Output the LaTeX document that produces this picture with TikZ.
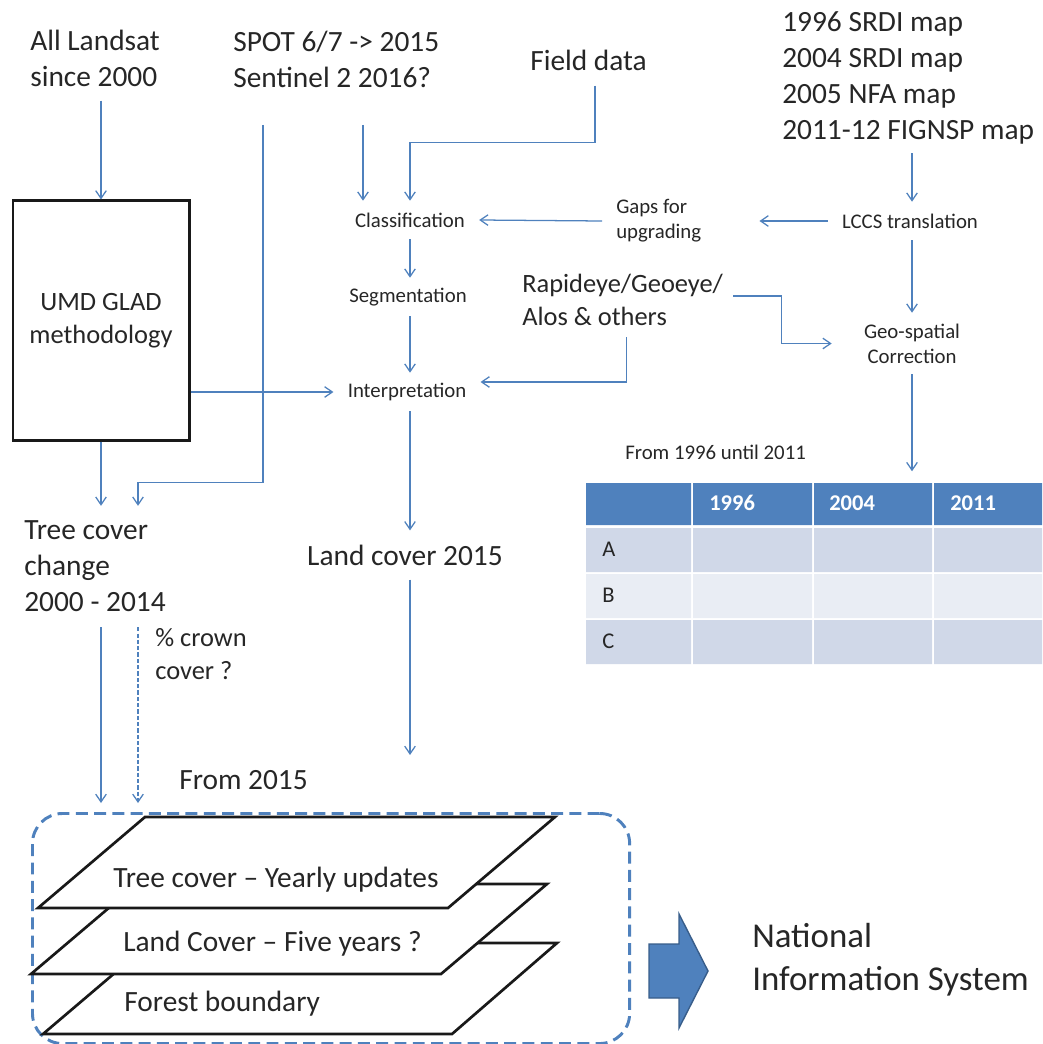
\documentclass[tikz,border=0pt]{standalone}
\usepackage{fontspec}
\setmainfont{Carlito}
\usetikzlibrary{arrows.meta,calc}

\definecolor{lineblue}{HTML}{4F81BD}
\definecolor{headblue}{HTML}{4F81BD}
\definecolor{rowdark}{HTML}{D0D8E8}
\definecolor{rowlight}{HTML}{E9EDF4}
\definecolor{arrowedge}{HTML}{385D8A}
\definecolor{textgray}{HTML}{262626}

\newcommand{\szbig}{\fontsize{20.9}{25.5}\selectfont}
\newcommand{\szmid}{\fontsize{18.8}{23.5}\selectfont}
\newcommand{\szsmall}{\fontsize{14.8}{17.8}\selectfont}
\newcommand{\szhuge}{\fontsize{24.8}{30.6}\selectfont}
\newcommand{\sztab}{\fontsize{16}{19}\selectfont}

\begin{document}
\begin{tikzpicture}[x=0.025cm, y=-0.025cm,
    txt/.style={inner sep=0pt, text=textgray, align=left, anchor=west},
    proc/.style={inner sep=0pt, inner xsep=0.35cm, minimum height=0.95cm, text=textgray, font=\szsmall, align=left},
    link/.style={lineblue, line width=0.9pt, -{Straight Barb[length=5.5pt,width=7.5pt]}},
    layer/.style={draw=black!90, line width=1.9pt, fill=white},
    ]
    \useasboundingbox (0,0) rectangle (1042,1044);

    % Sources
    \node[txt, font=\szbig] (landsat) at (30,58) {All Landsat\\since 2000};
    \node[txt, font=\szbig] (spot) at (233,59) {SPOT 6/7 -> 2015\\Sentinel 2 2016?};
    \node[txt, font=\szbig] (field) at (530,60) {Field data};
    \node[txt, font=\szbig] (maps) at (782,78) {1996 SRDI map\\2004 SRDI map\\2005 NFA map\\2011-12 FIGNSP map};
    \coordinate (spotL) at (263,125);
    \coordinate (spotR) at (363,125);

    % UMD box
    \node[draw=black!90, line width=2.1pt, minimum width=4.4cm, minimum height=5.975cm, inner sep=0pt,
          font=\szmid, text=textgray, align=center] (umd) at (101,320.5) {UMD GLAD\\methodology};

    % Processing chain
    \node[proc] (classif) at (410,220) {Classification};
    \node[proc] (seg) at (408,297) {Segmentation};
    \node[proc] (interp) at (407,392) {Interpretation};
    \node[proc, anchor=west] (gaps) at (602,221) {Gaps for\\upgrading};
    \node[proc] (lccs) at (910,221) {LCCS translation};
    \node[proc, inner xsep=0.8cm, minimum height=1.525cm, align=center] (geo) at (912,343.5) {Geo-spatial\\Correction};
    \node[txt, font=\szmid] (rapid) at (522,300) {Rapideye/Geoeye/\\Alos \& others};

    % Results
    \node[txt, font=\szbig, inner ysep=0.375cm] (tcc) at (24,566.5) {Tree cover\\change\\2000 - 2014};
    \node[txt, font=\szbig, inner ysep=0.35cm, anchor=center] (lc) at (405,555) {Land cover 2015};
    \node[txt, font=\szmid] (crown) at (155,654) {\% crown\\cover ?};
    \node[txt, font=\szbig] (from15) at (179,780) {From 2015};
    \node[txt, font=\szsmall] (from96) at (625,452) {From 1996 until 2011};

    % Table
    \fill[headblue] (586,483) rectangle (691,525) (693,483) rectangle (812,525) (814,483) rectangle (932,525) (934,483) rectangle (1042,525);
    \fill[rowdark] (586,528) rectangle (691,572) (693,528) rectangle (812,572) (814,528) rectangle (932,572) (934,528) rectangle (1042,572);
    \fill[rowlight] (586,574) rectangle (691,618) (693,574) rectangle (812,618) (814,574) rectangle (932,618) (934,574) rectangle (1042,618);
    \fill[rowdark] (586,620) rectangle (691,664) (693,620) rectangle (812,664) (814,620) rectangle (932,664) (934,620) rectangle (1042,664);
    \node[txt, font=\sztab\bfseries, text=white] (h1996) at (709,503) {1996};
    \node[txt, font=\sztab\bfseries, text=white] (h2004) at (829,503) {2004};
    \node[txt, font=\sztab\bfseries, text=white] (h2011) at (950,503) {2011};
    \node[txt, font=\sztab] (rA) at (602,549) {A};
    \node[txt, font=\sztab] (rB) at (602,595) {B};
    \node[txt, font=\sztab] (rC) at (602,641) {C};

    % Layers
    \node[draw=lineblue, line width=2.1pt, dash pattern=on 8.5pt off 4.5pt, rounded corners=0.75cm,
          minimum width=14.925cm, minimum height=5.75cm, inner sep=0pt, anchor=north west] (stack) at (31,812) {};
    \draw[layer] (43,1034) -- (452,1034) -- (557,943) -- (150,943) -- cycle;
    \draw[layer] (31,974) -- (441,974) -- (547,884) -- (137,884) -- cycle;
    \draw[layer] (38,908) -- (448,908) -- (555,817) -- (145,817) -- cycle;
    \node[txt, font=\szbig] (treelayer) at (113,879.5) {Tree cover – Yearly updates};
    \node[txt, font=\szbig] (landlayer) at (123,944) {Land Cover – Five years ?};
    \node[txt, font=\szbig] (forestlayer) at (124,1004) {Forest boundary};

    % Output arrow
    \draw[fill=headblue, draw=arrowedge, line width=1pt] (649,944) -- (679,944) -- (679,914) -- (708,971)
        -- (679,1028) -- (679,998) -- (649,998) -- cycle;
    \node[txt, font=\szhuge] (nis) at (752,960) {National\\Information System};

    % Connectors
    \draw[link] ($(landsat.south -| umd.north)+(0,14)$) -- (umd.north);
    \draw[link] (spotL) |- ($(tcc.north west)+(114,-23)$) -- ($(tcc.north west)+(114,0)$);
    \draw[link] (spotR) -- (spotR |- classif.north);
    \draw[link] ($(field.south)+(6.5,15)$) |- ($(classif.north)+(0,-58)$) -- (classif.north);
    \draw[link] (gaps.west) -- (classif.east);
    \draw[link] ($(maps.south -| geo.north)+(0,9)$) -- (lccs.north -| geo.north);
    \draw[link] (lccs.west) -- ($(gaps.east)+(44,0)$);
    \draw[link] (lccs.south -| geo.north) -- (geo.north);
    \draw[link] ($(rapid.east)+(10,-4)$) -- ++(48,0) |- (geo.west);
    \draw[link] (classif.south) -- (classif.south |- seg.north);
    \draw[link] (seg.south -| classif.south) -- (interp.north -| classif.south);
    \draw[link] ($(rapid.south)+(4,11)$) |- ($(interp.east)+(0,-10)$);
    \draw[link] (interp.west -| umd.east) -- (interp.west);
    \draw[link] (umd.south) -- (umd.south |- tcc.north);
    \draw[link] (interp.south -| classif.south) -- (lc.north -| classif.south);
    \draw[link] (lc.south -| classif.south) -- ($(classif.south |- stack.north)+(0,-57)$);
    \draw[link] (geo.south) -- ($(geo.south |- h2004.north)+(0,-24)$);
    \draw[link] (tcc.south -| umd.south) -- ($(stack.north -| umd.south)+(0,-9)$);
    \draw[link, dash pattern=on 3pt off 1.5pt] ($(tcc.south west)+(114,0)$) -- ($(tcc.south west |- stack.north)+(114,-9)$);
\end{tikzpicture}
\end{document}
